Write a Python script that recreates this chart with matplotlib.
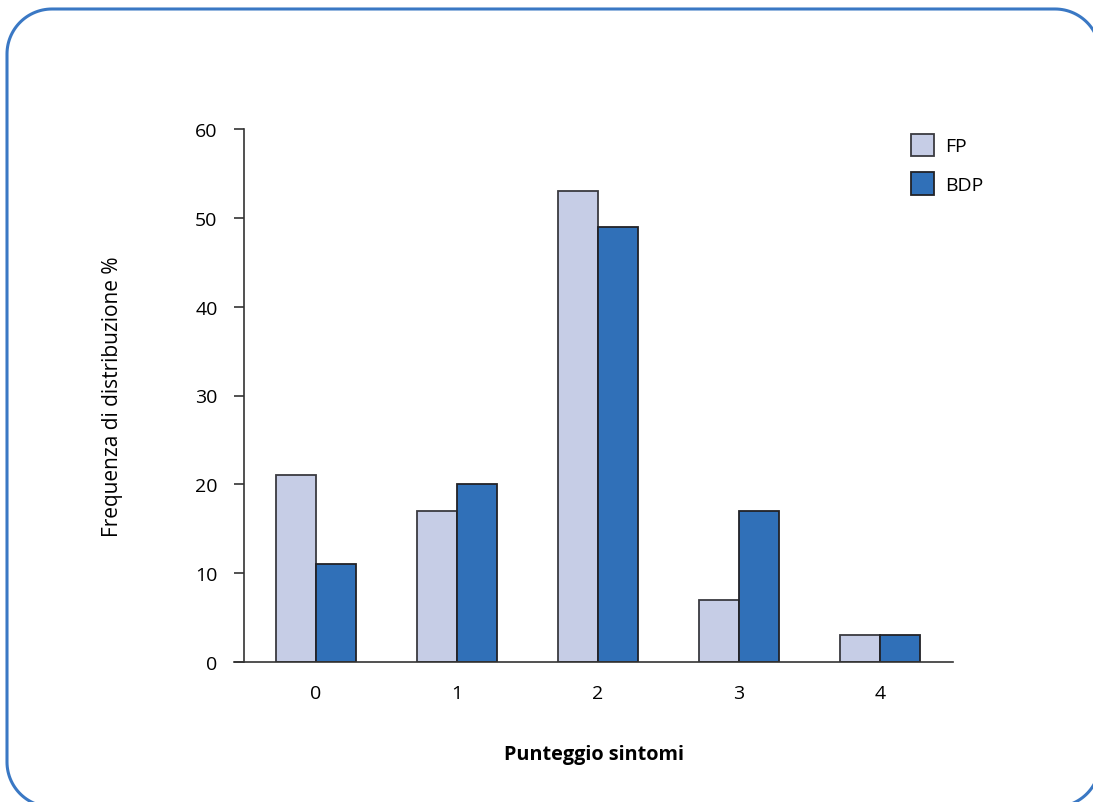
import numpy as np
import matplotlib.pyplot as plt

# data
scores = ["0", "1", "2", "3", "4"]
fp = [21, 17, 53, 7, 3]
bdp = [11, 20, 49, 17, 3]

plt.rcParams['font.family'] = ['Open Sans', 'DejaVu Sans']

fig = plt.figure(figsize=(10.93, 8.03), dpi=100)

# rounded frame around the whole figure, pixel-scaled background axes
bg = fig.add_axes([0, 0, 1, 1])
bg.set_xlim(0, 1093)
bg.set_ylim(0, 803)
bg.axis('off')
x0, x1, y0, y1, r = 7, 1100, -5, 793, 45
t = np.linspace(0, np.pi / 2, 30)
fx = np.concatenate([x1 - r + r * np.cos(t), x0 + r - r * np.sin(t),
                     x0 + r - r * np.cos(t), x1 - r + r * np.sin(t), [x1]])
fy = np.concatenate([y1 - r + r * np.sin(t), y1 - r + r * np.cos(t),
                     y0 + r - r * np.sin(t), y0 + r - r * np.cos(t), [y1 - r]])
bg.plot(fx, fy, color='#3a78c4', linewidth=2.2, clip_on=False)

ax = fig.add_axes([234 / 1093, 1 - 663 / 803, 719 / 1093, 533 / 803])

x = np.arange(len(scores))
w = 0.284
ax.bar(x - w / 2, fp, w, color='#c6cde6', edgecolor='#3a3a40', linewidth=1.3, label='FP')
ax.bar(x + w / 2, bdp, w, color='#3070b8', edgecolor='#222226', linewidth=1.3, label='BDP')

ax.set_xlim(-0.58, 4.52)
ax.set_ylim(0, 60)
ax.patch.set_alpha(0)
ax.spines['top'].set_visible(False)
ax.spines['right'].set_visible(False)
ax.spines['left'].set_position(('data', -0.509))
for s in ['left', 'bottom']:
    ax.spines[s].set_color('#333333')
    ax.spines[s].set_linewidth(1.2)

ax.set_yticks(range(0, 61, 10))
ax.set_xticks(x)
ax.set_xticklabels(scores)
ax.tick_params(axis='y', direction='out', length=7, width=1.2, color='#333333',
               labelsize=14, pad=12)
ax.tick_params(axis='x', length=0, labelsize=14, pad=16)

ax.set_ylabel("Frequenza di distribuzione %", fontsize=15, labelpad=52)
ax.set_xlabel("Punteggio sintomi", fontsize=14.3, fontweight='bold', labelpad=30)

ax.legend(loc='upper left', bbox_to_anchor=(893 / 1093, 1 - 117 / 803),
          bbox_transform=fig.transFigure, frameon=False, fontsize=14,
          handlelength=1.2, handleheight=1.4, labelspacing=0.85, handletextpad=0.6)

fig.savefig("out.png", dpi=100)
